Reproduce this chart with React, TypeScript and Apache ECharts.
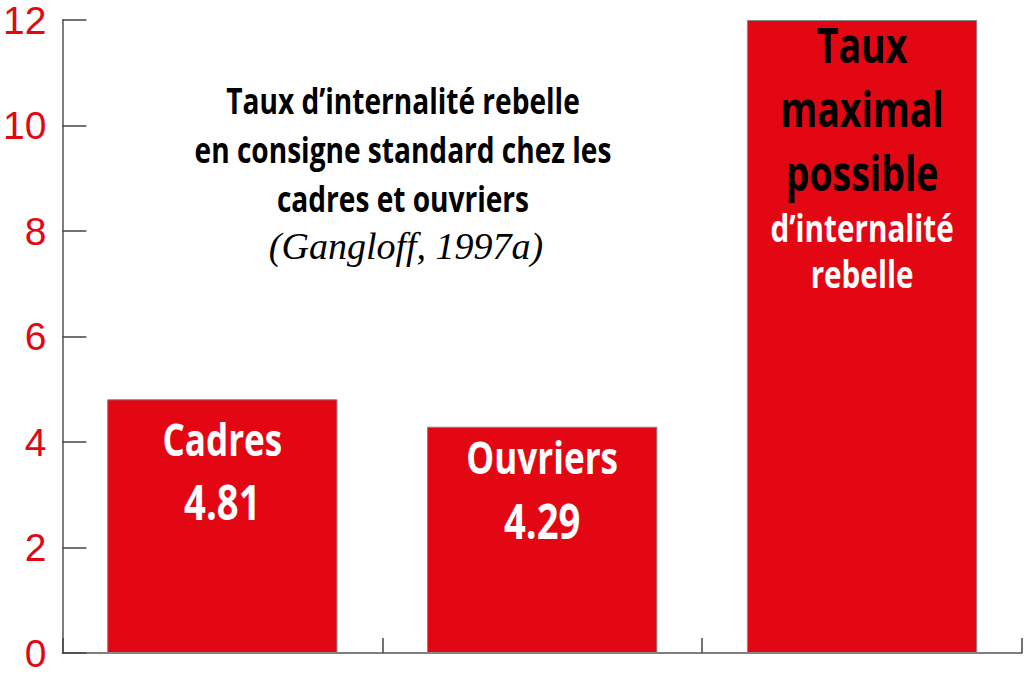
import React, { useEffect, useRef } from "react";
import * as echarts from "echarts";

const categories = ["Cadres", "Ouvriers", "Taux maximal possible"];
const values = [4.81, 4.29, 12];
const yTicks = [0, 2, 4, 6, 8, 10, 12];
const titleLines = [
  "Taux d’internalité rebelle",
  "en consigne standard chez les",
  "cadres et ouvriers",
];
const titleSource = "(Gangloff, 1997a)";
const maxLabelDark = ["Taux", "maximal", "possible"];
const maxLabelLight = ["d’internalité", "rebelle"];

const RED = "#e30613";
const BOLDFONT = "'Open Sans', 'DejaVu Sans', sans-serif";
const SQUEEZE = 0.78;

export default function App() {
  const ref = useRef<HTMLDivElement>(null);
  useEffect(() => {
    if (!ref.current) return;
    const chart = echarts.init(ref.current, null, { renderer: "svg" });
    chart.setOption({
      animation: false,
      grid: { left: 61, right: 2, top: 20, bottom: 29, containLabel: false },
      xAxis: {
        type: "category",
        data: categories,
        axisLine: { lineStyle: { color: "#555", width: 1.5 } },
        axisTick: { show: true, inside: true, length: 15, lineStyle: { color: "#444", width: 1.5 } },
        axisLabel: { show: false },
      },
      yAxis: {
        type: "value",
        min: yTicks[0],
        max: yTicks[yTicks.length - 1],
        interval: 2,
        axisLine: { show: true, lineStyle: { color: "#555", width: 1.5 } },
        axisTick: { show: true, inside: true, length: 24, lineStyle: { color: "#444", width: 1.5 } },
        splitLine: { show: false },
        axisLabel: {
          color: RED,
          fontSize: 39,
          fontFamily: "'Liberation Sans', sans-serif",
          margin: 16,
          padding: [6, 0, 0, 0],
        },
      },
      series: [
        {
          type: "bar",
          data: values,
          barWidth: "72%",
          itemStyle: { color: RED, borderColor: "#888", borderWidth: 1 },
        },
      ],
    });

    // bar labels placed from the library's own scale
    const tops = values.map((v, i) =>
      chart.convertToPixel({ seriesIndex: 0 }, [i, v]) as number[]
    );
    const labelOffsets = [7.5, -1, -7];
    const rich = {
      n: {
        fontFamily: BOLDFONT,
        fontWeight: "bold",
        fontSize: 45,
        fill: "#ffffff",
        lineHeight: 63,
        align: "center",
      },
      v: {
        fontFamily: BOLDFONT,
        fontWeight: "bold",
        fontSize: 49,
        fill: "#ffffff",
        lineHeight: 63,
        align: "center",
      },
      k: {
        fontFamily: BOLDFONT,
        fontWeight: "bold",
        fontSize: 48,
        fill: "#000000",
        lineHeight: 64,
        align: "center",
      },
      w: {
        fontFamily: BOLDFONT,
        fontWeight: "bold",
        fontSize: 38,
        fill: "#ffffff",
        lineHeight: 46,
        align: "center",
      },
    };
    const barLabels = values.map((v, i) => {
      const text =
        i < 2
          ? `{n|${categories[i]}}\n{v|${v.toFixed(2)}}`
          : maxLabelDark.map((t) => `{k|${t}}`).join("\n") +
            "\n" +
            maxLabelLight.map((t) => `{w|${t}}`).join("\n");
      return {
        type: "text",
        x: tops[i][0],
        y: tops[i][1] + labelOffsets[i],
        scaleX: SQUEEZE,
        z: 100,
        style: {
          text,
          align: "center",
          verticalAlign: "top",
          rich,
        },
      };
    });

    chart.setOption({
      graphic: [
        {
          type: "text",
          x: 403,
          y: 75,
          scaleX: SQUEEZE,
          style: {
            text: titleLines.map((t) => `{b|${t}}`).join("\n"),
            align: "center",
            verticalAlign: "top",
            rich: {
              b: {
                fontFamily: BOLDFONT,
                fontWeight: "bold",
                fontSize: 36,
                fill: "#000",
                lineHeight: 49,
                align: "center",
              },
            },
          },
        },
        {
          type: "text",
          x: 406,
          y: 221,
          style: {
            text: titleSource,
            align: "center",
            verticalAlign: "top",
            fontFamily: "'Liberation Serif', serif",
            fontStyle: "italic",
            fontSize: 38,
            fill: "#000",
            lineHeight: 50,
          },
        },
        ...barLabels,
      ],
    });
    return () => chart.dispose();
  }, []);
  return <div ref={ref} style={{ width: 1024, height: 682, position: "absolute", left: 0, top: 0 }} />;
}
